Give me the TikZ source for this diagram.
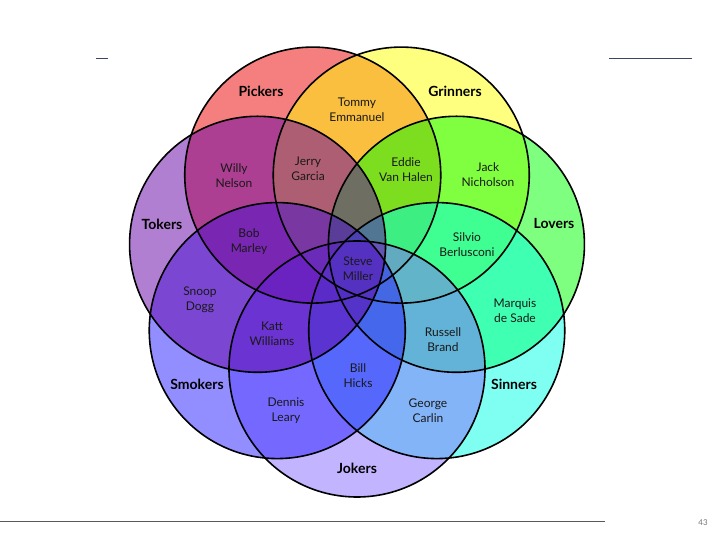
\documentclass[tikz,border=0pt]{standalone}
\usepackage{fontspec}
\setmainfont{Lato}
\usepackage{tikz}
\usetikzlibrary{calc}
\definecolor{pickred}{RGB}{235,0,0}
\definecolor{grinyel}{RGB}{255,255,0}
\definecolor{lovegrn}{RGB}{0,255,0}
\definecolor{sincyan}{RGB}{0,255,230}
\definecolor{jokelav}{RGB}{135,105,255}
\definecolor{smokblu}{RGB}{40,30,255}
\definecolor{tokpur}{RGB}{100,0,165}
\definecolor{slide}{RGB}{60,70,100}

\begin{document}
\begin{tikzpicture}[x=1pt,y=1pt,
  set/.style={font=\fontsize{14}{16}\selectfont\bfseries},
  who/.style={font=\fontsize{12}{15}\selectfont,align=center,text=black!90},
  blob/.style={fill opacity=.5}]
\useasboundingbox (0,0) rectangle (720,540);
% slide rules
\draw[slide,line width=1pt] (96,481) -- (108,481);
\draw[slide,line width=1pt] (609,481) -- (692,481);
\draw[black!65,line width=.8pt] (0,19) -- (605,19);
\node[text=black!55,font=\fontsize{8}{9}\selectfont] (page) at (703,17) {43};
% centres of the seven sets
\coordinate (mid) at (357,273);
\foreach \nm/\ang in {pick/115.71,grin/64.29,love/12.86,sin/-38.57,joke/-90,smok/-141.43,tok/167.14}
  \coordinate (\nm) at ($(mid)+(\ang:102pt)$);
% fills, clockwise from Pickers
\fill[pickred,blob] (pick) circle (128pt);
\fill[grinyel,blob] (grin) circle (128pt);
\fill[lovegrn,blob] (love) circle (128pt);
\fill[sincyan,blob] (sin) circle (128pt);
\fill[jokelav,blob] (joke) circle (128pt);
\fill[smokblu,blob] (smok) circle (128pt);
\fill[tokpur,blob] (tok) circle (128pt);
\foreach \nm in {pick,grin,love,sin,joke,smok,tok}
  \draw[line width=1.6pt] (\nm) circle (128pt);
% set names
\node[set] (pickers) at (261,449) {Pickers};
\node[set] (grinners) at (455,449) {Grinners};
\node[set] (tokers) at (162,316) {Tokers};
\node[set] (lovers) at (554,316) {Lovers};
\node[set] (smokers) at (197,156) {Smokers};
\node[set] (sinners) at (514,156) {Sinners};
\node[set] (jokers) at (357,72) {Jokers};
% people
\node[who] (tommy) at (357,430) {Tommy\\Emmanuel};
\node[who] (willy) at (234,364.5) {Willy\\Nelson};
\node[who] (jerry) at (308,371.5) {Jerry\\Garcia};
\node[who] (eddie) at (406,370) {Eddie\\Van Halen};
\node[who] (jack) at (488,365.5) {Jack\\Nicholson};
\node[who] (bob) at (249,298) {Bob\\Marley};
\node[who] (silvio) at (467,295.5) {Silvio\\Berlusconi};
\node[who] (steve) at (358,271.5) {Steve\\Miller};
\node[who] (snoop) at (200,240) {Snoop\\Dogg};
\node[who] (marquis) at (515,229.5) {Marquis\\de Sade};
\node[who] (katt) at (272,206) {Katt\\Williams};
\node[who] (russell) at (443,200) {Russell\\Brand};
\node[who] (bill) at (358,164.5) {Bill\\Hicks};
\node[who] (dennis) at (286,129.5) {Dennis\\Leary};
\node[who] (george) at (428,129.5) {George\\Carlin};
\end{tikzpicture}
\end{document}
